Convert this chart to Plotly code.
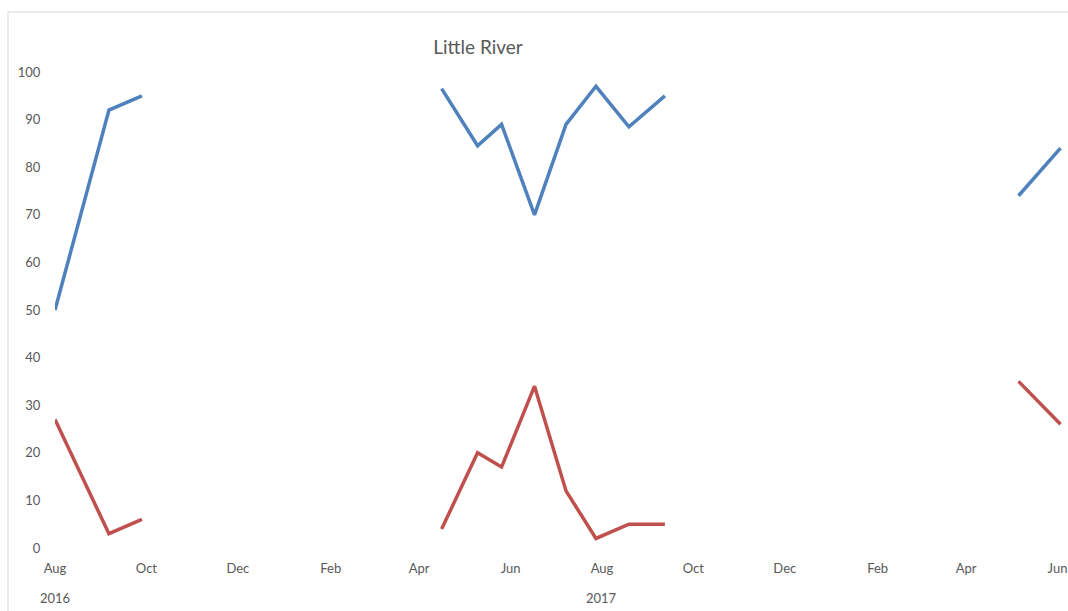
import plotly.graph_objects as go

# Sampling dates (None marks a break between sampling seasons)
dates = [
    "2016-08-01", "2016-09-06", "2016-09-28", "2017-01-01",
    "2017-04-16", "2017-05-10", "2017-05-26", "2017-06-17",
    "2017-07-08", "2017-07-28", "2017-08-19", "2017-09-12",
    "2018-01-01", "2018-05-06", "2018-06-03",
]
series_a = [50, 92, 95, None, 96.5, 84.5, 89, 70, 89, 97, 88.5, 95, None, 74, 84]
series_b = [27, 3, 6, None, 4, 20, 17, 34, 12, 2, 5, 5, None, 35, 26]

year_labels = ["2016", "2017"]
year_dates = ["2016-08-01", "2017-08-01"]

FONT = "Lato, 'Open Sans', sans-serif"
GREY = "#595959"

fig = go.Figure()
fig.add_trace(go.Scatter(x=dates, y=series_a, mode="lines", connectgaps=False,
                         line=dict(color="#4F81BD", width=3.5), hoverinfo="x+y"))
fig.add_trace(go.Scatter(x=dates, y=series_b, mode="lines", connectgaps=False,
                         line=dict(color="#C0504D", width=3.5), hoverinfo="x+y"))

for label, d in zip(year_labels, year_dates):
    fig.add_annotation(x=d, y=0, xref="x", yref="paper", text=label,
                       showarrow=False, yanchor="middle", yshift=-50,
                       font=dict(family=FONT, size=13, color=GREY))

# chart-area border
fig.add_shape(type="rect", xref="paper", yref="paper",
              x0=-0.0464, x1=1.05, y0=-0.2, y1=1.126,
              line=dict(color="#D9D9D9", width=1), fillcolor="rgba(0,0,0,0)", layer="below")

fig.update_layout(
    width=1068, height=611,
    margin=dict(l=55, r=0, t=72, b=63),
    paper_bgcolor="white", plot_bgcolor="white",
    showlegend=False,
    title=dict(text="Little River", x=0.4476, xanchor="center", xref="container",
               y=1 - 47 / 611, yanchor="middle", yref="container",
               font=dict(family=FONT, size=19, color=GREY)),
    xaxis=dict(type="date", range=["2016-08-01", "2018-06-08"],
               tick0="2016-08-01", dtick="M2", tickformat="%b",
               showgrid=False, zeroline=False, showline=False,
               ticks="outside", ticklen=8, tickcolor="rgba(0,0,0,0)",
               tickfont=dict(family=FONT, size=13, color=GREY)),
    yaxis=dict(range=[0, 100], dtick=10, tick0=0,
               showgrid=False, zeroline=False, showline=False,
               ticks="outside", ticklen=11, tickcolor="rgba(0,0,0,0)",
               tickfont=dict(family=FONT, size=13, color=GREY)),
)

fig.write_html("out.html")
